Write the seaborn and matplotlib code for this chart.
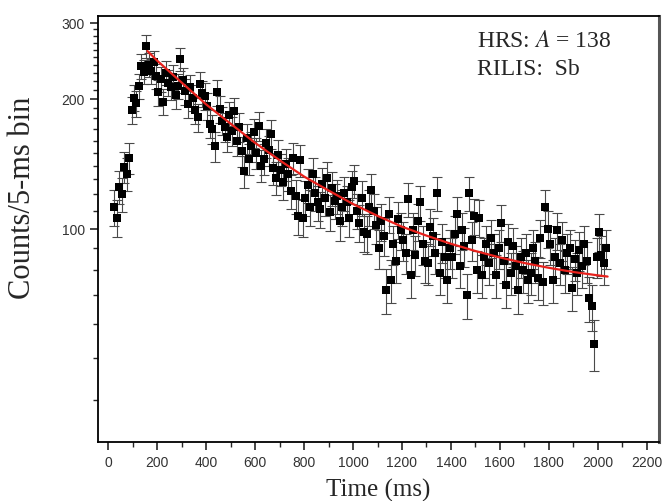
import numpy as np
import seaborn as sns
import matplotlib.pyplot as plt
from matplotlib.ticker import FixedLocator, FuncFormatter, NullLocator

# --- data ---
# bin centres (ms), one point every 10 ms
time_ms = np.arange(25, 2045, 10)

counts = [
    112, 106, 125, 120, 139, 134, 146, 188,                      # 25-95
    201, 195, 214, 238, 231, 265, 240, 232, 243, 226,            # 105-195
    207, 222, 197, 230, 218, 213, 225, 204, 214, 247,            # 205-295
    221, 208, 194, 213, 201, 188, 181, 216, 206, 203,            # 305-395
    192, 175, 170, 155, 207, 189, 178, 172, 163, 183,            # 405-495
    168, 187, 160, 172, 151, 136, 162, 145, 155, 167,            # 505-595
    150, 173, 140, 145, 158, 152, 166, 138, 131, 148,            # 605-695
    137, 128, 141, 134, 122, 146, 119, 107, 144, 106,            # 705-795
    118, 126, 112, 134, 121, 115, 111, 127, 118, 131,            # 805-895
    109, 124, 116, 119, 104, 112, 121, 115, 106, 125,            # 905-995
    129, 110, 103, 118, 98, 97, 112, 123, 110, 102,              # 1005-1095
    90, 104, 96, 72, 108, 76, 92, 84, 105, 99,                   # 1105-1195
    94, 88, 117, 78, 99, 87, 104, 115, 92, 84,                   # 1205-1295
    83, 101, 96, 88, 121, 79, 93, 86, 76, 90,                    # 1305-1395
    86, 97, 108, 82, 99, 91, 70, 121, 94, 107,                   # 1405-1495
    80, 106, 78, 86, 92, 83, 95, 88, 78, 90,                     # 1505-1595
    103, 84, 74, 93, 79, 91, 82, 72, 86, 80,                     # 1605-1695
    88, 76, 79, 90, 84, 77, 95, 75, 112, 100,                    # 1705-1795
    92, 76, 86, 99, 83, 94, 80, 88, 90, 73,                      # 1805-1895
    85, 79, 89, 82, 92, 84, 69, 66, 54, 86,                      # 1905-1995
    98, 87, 83, 90,                                              # 2005-2035
]

# fitted decay curve, sampled from the figure
fit_time = [160, 200, 300, 400, 500, 600, 700, 800, 900, 1000, 1100,
            1200, 1300, 1400, 1500, 1600, 1700, 1800, 1900, 2000, 2040]
fit_counts = [258, 245, 218, 194, 175, 158, 144, 132, 122.5, 114, 107,
              101, 96.3, 92.2, 88.7, 85.7, 83.2, 81.1, 79.3, 77.9, 77.4]

x_ticks = [0, 200, 400, 600, 800, 1000, 1200, 1400, 1600, 1800, 2000, 2200]
x_minor = [100, 300, 500, 700, 900, 1100, 1300, 1500, 1700, 1900, 2100]
y_ticks = [100, 200, 300]
y_minor = [40, 50, 60, 70, 80, 90, 110, 120, 130, 140, 150, 160, 170, 180,
           190, 210, 220, 230, 240, 250, 260, 270, 280, 290]

counts = np.array(counts, dtype=float)
errors = np.sqrt(counts)

sns.set_style("ticks")
plt.rcParams['font.family'] = ['Liberation Sans', 'DejaVu Sans']
plt.rcParams['mathtext.fontset'] = 'stix'

fig = plt.figure(figsize=(6.62, 5.02), dpi=100)
ax = fig.add_axes([0.148, 0.1175, 0.8475, 0.8486])
ax.set_yscale('log')

ax.errorbar(time_ms, counts, yerr=errors, fmt='none', ecolor='#4a4a4a',
            elinewidth=0.8, capsize=3.5, capthick=0.8, zorder=2)
sns.scatterplot(x=time_ms, y=counts, marker='s', s=40, color='black',
                edgecolor='black', linewidth=0, ax=ax, zorder=3)
sns.lineplot(x=fit_time, y=fit_counts, color='#e8211c', linewidth=1.6,
             ax=ax, zorder=4)

ax.set_xlim(-42, 2250)
ax.set_ylim(32, 311)

ax.xaxis.set_major_locator(FixedLocator(x_ticks))
ax.xaxis.set_minor_locator(FixedLocator(x_minor))

# all y ticks as majors, only 100/200/300 get a label and full length
y_all = sorted(y_ticks + y_minor)
ax.yaxis.set_major_locator(FixedLocator(y_all))
ax.yaxis.set_major_formatter(
    FuncFormatter(lambda v, p: f"{v:.0f}" if round(v) in y_ticks else ""))
ax.yaxis.set_minor_locator(NullLocator())

ax.tick_params(which='major', direction='out', length=6, width=1.2,
               labelsize=10, labelcolor='#333333', top=False, right=False)
ax.tick_params(which='minor', direction='out', length=3.5, width=1.0,
               top=False, right=False)

for tick, v in zip(ax.yaxis.get_major_ticks(), y_all):
    if v not in y_ticks:
        tick.tick1line.set_markersize(3.5)
        tick.tick1line.set_markeredgewidth(1.0)

for side in ['left', 'bottom', 'top']:
    ax.spines[side].set_linewidth(1.3)
    ax.spines[side].set_color('black')
ax.spines['right'].set_linewidth(2.2)
ax.spines['right'].set_color('#555555')

ax.set_xlabel('Time (ms)', family='Liberation Serif', fontsize=18, labelpad=6)
ax.set_ylabel('Counts/5-ms bin', family='Liberation Serif', fontsize=22,
              va='center')
ax.yaxis.set_label_coords(-0.134, 0.575)

fig.text(0.7205, 0.906, r'HRS: $\mathit{A}$ = 138', family='Liberation Serif',
         fontsize=17, va='baseline')
fig.text(0.7205, 0.8506, 'RILIS:  Sb', family='Liberation Serif',
         fontsize=17, va='baseline')

fig.savefig('out.png', dpi=100)
